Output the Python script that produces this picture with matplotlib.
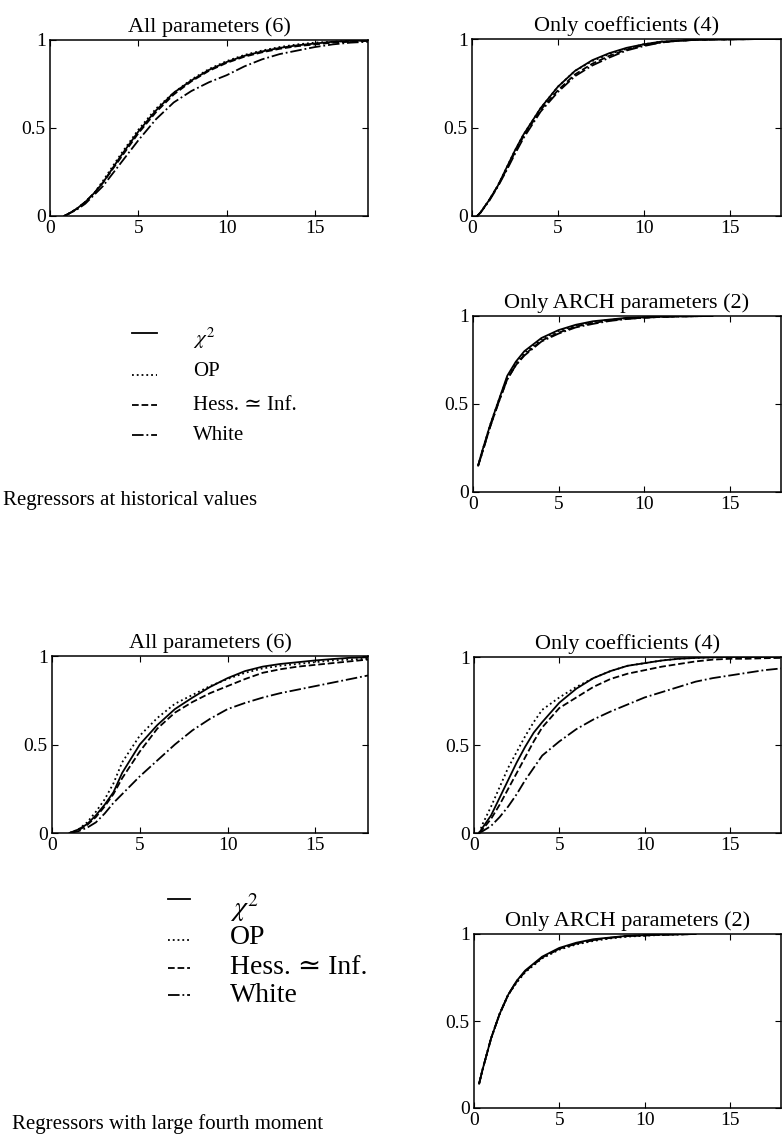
import matplotlib
matplotlib.use('Agg')
import matplotlib.pyplot as plt
from matplotlib.lines import Line2D

plt.rcParams['font.family'] = ['Liberation Serif', 'DejaVu Serif']
plt.rcParams['mathtext.fontset'] = 'stix'

W, H = 783, 1134

# ---- data ----
# Regressors at historical values
x_all6 = [0.8, 1, 1.5, 2, 2.5, 3, 4, 5, 6, 7, 8, 9, 10, 11, 12, 13, 14, 15, 16, 17, 18]
chi_all6 = [0, 0.01, 0.04, 0.08, 0.13, 0.19, 0.34, 0.48, 0.60, 0.70, 0.77, 0.83, 0.875, 0.91, 0.935, 0.955, 0.97, 0.98, 0.99, 0.995, 0.998]
op_all6 = [0, 0.01, 0.04, 0.08, 0.13, 0.20, 0.35, 0.49, 0.61, 0.70, 0.775, 0.835, 0.88, 0.915, 0.94, 0.96, 0.975, 0.985, 0.99, 0.995, 0.998]
hess_all6 = [0, 0.01, 0.04, 0.08, 0.13, 0.19, 0.33, 0.47, 0.59, 0.69, 0.765, 0.825, 0.87, 0.905, 0.93, 0.95, 0.965, 0.975, 0.985, 0.99, 0.995]
white_all6 = [0, 0.01, 0.035, 0.07, 0.12, 0.17, 0.30, 0.43, 0.55, 0.645, 0.71, 0.76, 0.80, 0.85, 0.89, 0.92, 0.94, 0.96, 0.975, 0.985, 0.99]

x_coef4 = [0.3, 0.5, 1, 1.5, 2, 2.5, 3, 4, 5, 6, 7, 8, 9, 10, 11, 12, 13, 14, 15, 16, 17, 18]
chi_coef4 = [0, 0.02, 0.09, 0.17, 0.27, 0.37, 0.46, 0.61, 0.73, 0.82, 0.88, 0.92, 0.95, 0.97, 0.985, 0.99, 0.995, 0.997, 0.998, 0.999, 1.0, 1.0]
op_coef4 = [0, 0.02, 0.09, 0.17, 0.27, 0.37, 0.46, 0.61, 0.73, 0.82, 0.875, 0.915, 0.945, 0.97, 0.985, 0.99, 0.995, 0.997, 0.998, 0.999, 1.0, 1.0]
hess_coef4 = [0, 0.02, 0.09, 0.17, 0.26, 0.36, 0.45, 0.60, 0.71, 0.80, 0.86, 0.905, 0.94, 0.965, 0.98, 0.99, 0.995, 0.997, 0.998, 0.999, 1.0, 1.0]
white_coef4 = [0, 0.02, 0.085, 0.165, 0.255, 0.35, 0.44, 0.59, 0.70, 0.79, 0.85, 0.895, 0.935, 0.96, 0.98, 0.99, 0.995, 0.997, 0.998, 0.999, 1.0, 1.0]

x_arch2 = [0.3, 0.5, 1, 1.5, 2, 2.5, 3, 4, 5, 6, 7, 8, 9, 10, 11, 12, 13, 14]
chi_arch2 = [0.15, 0.22, 0.38, 0.52, 0.66, 0.74, 0.80, 0.875, 0.92, 0.95, 0.97, 0.98, 0.99, 0.993, 0.996, 0.998, 0.999, 1.0]
op_arch2 = [0.15, 0.22, 0.38, 0.52, 0.65, 0.73, 0.79, 0.87, 0.915, 0.945, 0.965, 0.978, 0.987, 0.992, 0.996, 0.998, 0.999, 1.0]
hess_arch2 = [0.15, 0.21, 0.37, 0.51, 0.64, 0.72, 0.78, 0.86, 0.905, 0.94, 0.96, 0.975, 0.985, 0.99, 0.995, 0.998, 0.999, 1.0]
white_arch2 = [0.15, 0.21, 0.37, 0.51, 0.64, 0.72, 0.775, 0.855, 0.90, 0.935, 0.955, 0.972, 0.983, 0.99, 0.995, 0.997, 0.999, 1.0]

# Regressors with large fourth moment
x_all6_lf = [1.0, 1.5, 2, 2.5, 3, 3.5, 4, 5, 6, 7, 8, 9, 10, 11, 12, 13, 14, 15, 16, 17, 18]
chi_all6_lf = [0, 0.02, 0.05, 0.10, 0.16, 0.23, 0.34, 0.50, 0.61, 0.70, 0.765, 0.825, 0.875, 0.915, 0.94, 0.955, 0.965, 0.975, 0.983, 0.99, 0.993]
op_all6_lf = [0, 0.02, 0.06, 0.12, 0.19, 0.28, 0.40, 0.55, 0.65, 0.73, 0.78, 0.83, 0.87, 0.905, 0.93, 0.945, 0.955, 0.965, 0.975, 0.98, 0.985]
hess_all6_lf = [0, 0.015, 0.045, 0.09, 0.15, 0.22, 0.31, 0.46, 0.59, 0.68, 0.74, 0.79, 0.83, 0.87, 0.905, 0.925, 0.94, 0.95, 0.96, 0.97, 0.98]
white_all6_lf = [0, 0.01, 0.03, 0.06, 0.11, 0.17, 0.22, 0.32, 0.41, 0.50, 0.58, 0.645, 0.70, 0.735, 0.765, 0.79, 0.81, 0.83, 0.85, 0.87, 0.89]

x_coef4_lf = [0.3, 0.5, 1, 1.5, 2, 2.5, 3, 3.5, 4, 5, 6, 7, 8, 9, 10, 11, 12, 13, 14, 15, 16, 17, 18]
chi_coef4_lf = [0, 0.03, 0.10, 0.20, 0.30, 0.40, 0.49, 0.57, 0.63, 0.74, 0.82, 0.88, 0.92, 0.95, 0.965, 0.98, 0.99, 0.995, 0.998, 1.0, 1.0, 1.0, 1.0]
op_coef4_lf = [0, 0.05, 0.15, 0.26, 0.37, 0.46, 0.55, 0.63, 0.70, 0.77, 0.83, 0.88, 0.92, 0.95, 0.965, 0.98, 0.99, 0.995, 0.998, 1.0, 1.0, 1.0, 1.0]
hess_coef4_lf = [0, 0.02, 0.08, 0.16, 0.25, 0.34, 0.43, 0.52, 0.60, 0.71, 0.77, 0.83, 0.875, 0.905, 0.925, 0.945, 0.96, 0.975, 0.985, 0.99, 0.99, 0.993, 0.995]
white_coef4_lf = [0, 0.01, 0.04, 0.09, 0.15, 0.22, 0.30, 0.37, 0.44, 0.52, 0.59, 0.645, 0.69, 0.73, 0.77, 0.80, 0.83, 0.86, 0.88, 0.895, 0.91, 0.925, 0.935]

x_arch2_lf = [0.3, 0.5, 1, 1.5, 2, 2.5, 3, 4, 5, 6, 7, 8, 9, 10, 11, 12, 13]
chi_arch2_lf = [0.14, 0.22, 0.40, 0.54, 0.65, 0.73, 0.79, 0.87, 0.92, 0.95, 0.97, 0.98, 0.99, 0.993, 0.996, 0.998, 1.0]
op_arch2_lf = [0.14, 0.22, 0.40, 0.54, 0.65, 0.72, 0.78, 0.86, 0.91, 0.94, 0.96, 0.975, 0.985, 0.99, 0.995, 0.998, 1.0]
hess_arch2_lf = [0.14, 0.22, 0.40, 0.54, 0.65, 0.725, 0.785, 0.865, 0.915, 0.945, 0.965, 0.978, 0.988, 0.992, 0.996, 0.998, 1.0]
white_arch2_lf = [0.14, 0.22, 0.40, 0.54, 0.65, 0.73, 0.785, 0.865, 0.915, 0.945, 0.965, 0.978, 0.988, 0.992, 0.996, 0.998, 1.0]

labels = [r'$\chi^2$', 'OP', 'Hess. \u2243 Inf.', 'White']
styles = ['-', ':', '--', '-.']

fig = plt.figure(figsize=(W / 100, H / 100), dpi=100)


def add_panel(box, title, x, series):
    l, t, r, b = box
    ax = fig.add_axes([l / W, 1 - b / H, (r - l) / W, (b - t) / H])
    for y, ls in zip(series, styles):
        ax.plot(x, y, color='black', linestyle=ls, linewidth=1.3)
    ax.set_xlim(0, 18)
    ax.set_ylim(0, 1)
    ax.set_xticks([0, 5, 10, 15])
    ax.set_yticks([0, 0.5, 1])
    ax.set_yticklabels(['0', '0.5', '1'])
    ax.tick_params(direction='in', top=True, right=True, length=4, labelsize=14, pad=3)
    for s in ax.spines.values():
        s.set_linewidth(1.1)
    ax.set_title(title, fontsize=16, pad=6)
    return ax


def add_key(x_line, x_text, line_rows, text_rows, fontsize):
    # hand-drawn key, as in the original figure
    for ls, lab, yl, yt in zip(styles, labels, line_rows, text_rows):
        fig.add_artist(Line2D([x_line[0] / W, x_line[1] / W], [1 - yl / H, 1 - yl / H],
                              color='black', linestyle=ls, linewidth=1.3))
        fig.text(x_text / W, 1 - yt / H, lab, fontsize=fontsize, va='center')


add_panel((50, 40, 368, 216), 'All parameters (6)', x_all6,
          [chi_all6, op_all6, hess_all6, white_all6])
add_panel((472, 39, 781, 216), 'Only coefficients (4)', x_coef4,
          [chi_coef4, op_coef4, hess_coef4, white_coef4])
add_panel((473, 316, 781, 492), 'Only ARCH parameters (2)', x_arch2,
          [chi_arch2, op_arch2, hess_arch2, white_arch2])
add_panel((52, 656, 368, 833), 'All parameters (6)', x_all6_lf,
          [chi_all6_lf, op_all6_lf, hess_all6_lf, white_all6_lf])
add_panel((474, 657, 781, 833), 'Only coefficients (4)', x_coef4_lf,
          [chi_coef4_lf, op_coef4_lf, hess_coef4_lf, white_coef4_lf])
add_panel((474, 934, 781, 1108), 'Only ARCH parameters (2)', x_arch2_lf,
          [chi_arch2_lf, op_arch2_lf, hess_arch2_lf, white_arch2_lf])

add_key((132, 157), 193, [333, 375, 405, 435], [338, 372, 406, 435], 15)
add_key((168, 190), 230, [899, 940, 968, 995], [908, 938, 967, 995], 20)

fig.text(3 / W, 1 - 500 / H, 'Regressors at historical values', fontsize=15, va='center')
fig.text(12 / W, 1 - 1124 / H, 'Regressors with large fourth moment', fontsize=15, va='center')

fig.savefig('out.png', dpi=100)
